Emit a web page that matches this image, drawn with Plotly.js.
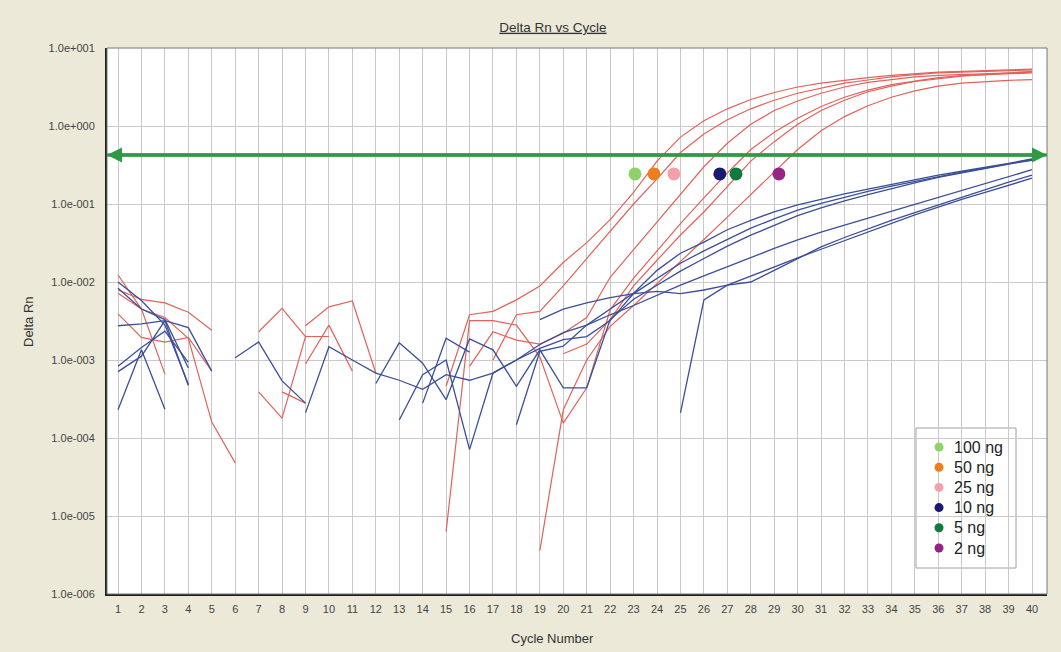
<!DOCTYPE html>
<html>
<head>
<meta charset="utf-8">
<script src="https://cdn.plot.ly/plotly-3.0.1.min.js"></script>
<style>
html,body{margin:0;padding:0;background:#ECE9D8;}
#chart{width:1061px;height:652px;}
</style>
</head>
<body>
<div id="chart"></div>
<script>
// ---- data ----
const cycles = [1,2,3,4,5,6,7,8,9,10,11,12,13,14,15,16,17,18,19,20,21,22,23,24,25,26,27,28,29,30,31,32,33,34,35,36,37,38,39,40];

const red1 = [0.0123,0.0045,0.00066,null,null,null,0.0023,0.0046,0.0020,null,null,null,null,null,0.00046,0.0038,0.0042,0.0059,0.0089,0.0178,0.032,0.063,0.141,0.355,0.72,1.17,1.66,2.19,2.69,3.16,3.55,3.89,4.17,4.47,4.68,4.90,5.01,5.13,5.25,5.37];
const red2 = [0.0079,0.0060,0.0054,0.0041,0.0024,null,null,null,0.00275,0.0048,0.0057,0.00068,null,null,null,null,0.0010,0.0038,0.0042,0.0089,0.020,0.045,0.100,0.21,0.457,0.79,1.20,1.66,2.14,2.63,3.09,3.55,3.89,4.27,4.57,4.79,4.90,5.01,5.13,5.25];
const red3 = [0.0072,0.0045,0.0035,0.0019,0.00016,0.000048,null,null,null,null,null,null,null,null,null,0.00083,0.0023,0.0018,0.0016,0.0022,0.0035,0.0115,0.026,0.060,0.132,0.30,0.60,1.05,1.58,2.09,2.63,3.16,3.63,3.98,4.27,4.47,4.57,4.68,4.79,4.90];
const red4 = [0.0039,0.00195,0.0017,0.00195,0.00072,null,null,0.00039,0.00028,null,null,null,null,null,0.0000063,0.0032,0.0032,0.0028,0.0011,0.000155,0.00044,0.0044,0.0112,0.025,0.056,0.12,0.25,0.50,0.83,1.26,1.78,2.34,2.88,3.39,3.80,4.17,4.42,4.57,4.68,4.79];
const red5 = [null,null,null,null,null,null,null,null,0.00089,0.0028,0.00072,null,null,null,null,null,null,null,null,0.0012,0.0016,0.0033,0.0089,0.019,0.040,0.079,0.166,0.355,0.63,1.05,1.58,2.14,2.75,3.24,3.72,4.07,4.37,4.57,4.79,5.01];
const red6 = [null,null,null,null,null,null,0.00039,0.00018,0.0020,0.0020,null,null,null,null,null,null,null,null,0.0000036,0.00023,0.0010,0.0027,0.0050,0.0095,0.018,0.035,0.068,0.132,0.25,0.50,0.87,1.32,1.82,2.34,2.82,3.24,3.55,3.72,3.85,3.94];

const blue1 = [0.0100,0.0058,0.0028,0.00049,null,0.00107,0.0017,0.00054,0.00028,null,null,null,null,0.00028,0.0019,0.00126,null,0.000148,0.00129,0.0015,0.0028,0.0045,0.0072,0.0141,0.0234,0.0324,0.0468,0.0617,0.0794,0.0977,0.115,0.135,0.155,0.178,0.204,0.234,0.263,0.295,0.331,0.380];
const blue2 = [0.00275,0.0029,0.0032,0.0026,0.00072,null,null,null,0.00021,0.00148,0.0010,0.00068,0.00055,0.00042,0.00065,0.00055,0.00068,0.0010,0.00141,0.00182,0.0020,0.0032,0.0071,0.0112,0.0174,0.0251,0.0355,0.049,0.0646,0.0832,0.102,0.123,0.145,0.170,0.195,0.224,0.257,0.288,0.324,0.372];
const blue3 = [0.00083,0.00145,0.00234,0.00093,null,null,null,null,null,null,null,0.0005,0.00166,0.00091,0.00031,0.00186,0.00135,0.00046,0.00135,0.00044,0.00044,0.0033,0.0060,0.0091,0.0138,0.020,0.0288,0.0398,0.0537,0.0708,0.089,0.110,0.132,0.158,0.186,0.219,0.251,0.288,0.324,0.363];
const blue4 = [0.00023,0.00135,0.000234,null,null,null,null,null,null,null,null,null,0.00017,0.00065,0.0010,0.000071,0.00068,0.0010,0.00158,0.00224,0.0028,0.0038,0.0050,0.0068,0.0091,0.012,0.0158,0.0209,0.0269,0.0347,0.0437,0.0537,0.066,0.0813,0.100,0.123,0.151,0.186,0.229,0.275];
const blue5 = [0.00071,0.00112,0.0032,0.00047,null,null,null,null,null,null,null,null,null,null,null,null,null,null,0.0033,0.0045,0.0054,0.0063,0.0071,0.0076,0.0071,0.0079,0.0091,0.0100,0.0141,0.020,0.0282,0.0372,0.0479,0.0617,0.0776,0.0977,0.123,0.155,0.191,0.234];
const blue6 = [0.0083,0.0045,0.0033,0.00079,null,null,null,null,null,null,null,null,null,null,null,null,null,null,null,null,null,null,null,null,0.00021,0.0059,0.0091,0.012,0.0158,0.0204,0.0263,0.0339,0.0437,0.0562,0.0724,0.0912,0.115,0.141,0.174,0.214];

const sampleNames = ['100 ng','50 ng','25 ng','10 ng','5 ng','2 ng'];
const sampleCt = [23.06, 23.87, 24.72, 26.68, 27.37, 29.2];
const markerLevel = 0.243;
const threshold = 0.425;

const yTickVals = [1e-6,1e-5,1e-4,1e-3,1e-2,1e-1,1,10];
const yTickText = ['1.0e-006','1.0e-005','1.0e-004','1.0e-003','1.0e-002','1.0e-001','1.0e+000','1.0e+001'];
const xTickVals = cycles;

// ---- styling ----
const sampleColors = ['#8fd16a','#ee7d1c','#f2a1a9','#1c1a6e','#0f7a40','#952584'];
const redColor = '#e2625a';
const blueColor = '#3b4e99';
const greenColor = '#2f9a44';
const xRange = [0.53, 40.64];

const L = 107, R = 1047, T = 48, B = 594, W = R-L, H = B-T;
const px = v => (v - L)/W;
const py = v => (B - v)/H;

// legend geometry (pixels)
const legBox = {x0:916, x1:1016, y0:428, y1:568};
const legDotX = 939, legTextX = 952, legFirstY = 447, legStep = 20.2;

const traces = [];
[red1,red2,red3,red4,red5,red6].forEach(s => traces.push({
  x: cycles, y: s, type:'scatter', mode:'lines', connectgaps:false,
  line:{color:redColor, width:1.2}, showlegend:false, hoverinfo:'skip'
}));
[blue1,blue2,blue3,blue4,blue5,blue6].forEach(s => traces.push({
  x: cycles, y: s, type:'scatter', mode:'lines', connectgaps:false,
  line:{color:blueColor, width:1.3}, showlegend:false, hoverinfo:'skip'
}));
// threshold line
traces.push({x: xRange, y:[threshold, threshold], type:'scatter', mode:'lines',
  line:{color:greenColor, width:3}, showlegend:false, hoverinfo:'skip', cliponaxis:false});
// Ct dots
traces.push({x: sampleCt, y: sampleCt.map(() => markerLevel), type:'scatter', mode:'markers',
  marker:{size:13, color:sampleColors}, showlegend:false, hoverinfo:'skip'});
// legend dots on an overlay axis in paper units
traces.push({x: sampleNames.map(() => px(legDotX)), y: sampleNames.map((_, i) => py(legFirstY + legStep*i)),
  xaxis:'x2', yaxis:'y2', type:'scatter', mode:'markers', cliponaxis:false,
  marker:{size:9, color:sampleColors}, showlegend:false, hoverinfo:'skip'});

const font = 'Liberation Sans, Arial, sans-serif';
const tLog = Math.log10(threshold);

const annotations = [
  {x:xRange[0], y:tLog, ax:xRange[1], ay:tLog, xref:'x', yref:'y', axref:'x', ayref:'y',
    text:'', showarrow:true, arrowhead:2, arrowsize:1, arrowwidth:3, arrowcolor:greenColor},
  {x:xRange[1], y:tLog, ax:xRange[0], ay:tLog, xref:'x', yref:'y', axref:'x', ayref:'y',
    text:'', showarrow:true, arrowhead:2, arrowsize:1, arrowwidth:3, arrowcolor:greenColor},
  {text:'Cycle Number', xref:'paper', yref:'paper', x:px(552), y:py(638), xanchor:'center',
    yanchor:'middle', showarrow:false, font:{size:13, color:'#333', family:font}},
  {text:'Delta Rn', xref:'paper', yref:'paper', x:px(28), y:py(322), xanchor:'center',
    yanchor:'middle', textangle:-90, showarrow:false, font:{size:13, color:'#333', family:font}}
];
sampleNames.forEach((n, i) => annotations.push({
  text:n, xref:'paper', yref:'paper', x:px(legTextX), y:py(legFirstY + legStep*i),
  xanchor:'left', yanchor:'middle', showarrow:false, font:{size:16, color:'#222', family:font}
}));

const layout = {
  width:1061, height:652,
  paper_bgcolor:'#ECE9D8', plot_bgcolor:'#ffffff',
  margin:{l:L, r:1061-R, t:T, b:652-B, pad:0},
  font:{family:font, color:'#333', size:11},
  title:{text:'<u>Delta Rn vs Cycle</u>', xref:'paper', x:px(553), xanchor:'center',
    yref:'container', y:1-27/652, yanchor:'middle', font:{size:13.5, color:'#333', family:font}},
  xaxis:{range:xRange, tickvals:xTickVals, ticktext:xTickVals.map(String), showgrid:true,
    gridcolor:'#c9c9c9', gridwidth:1, zeroline:false, showline:true, linecolor:'#1e1e1e',
    linewidth:2, ticks:'', ticklabelstandoff:4, tickfont:{size:11, color:'#444'}},
  yaxis:{type:'log', range:[-6,1], tickvals:yTickVals, ticktext:yTickText, showgrid:true,
    gridcolor:'#c9c9c9', gridwidth:1, zeroline:false, showline:true, linecolor:'#1e1e1e',
    linewidth:2, ticks:'', ticklabelstandoff:8, tickfont:{size:11, color:'#444'}},
  xaxis2:{overlaying:'x', range:[0,1], visible:false, fixedrange:true},
  yaxis2:{overlaying:'y', range:[0,1], visible:false, fixedrange:true},
  showlegend:false,
  shapes:[
    {type:'rect', xref:'paper', yref:'paper', x0:0, x1:1, y0:0, y1:1,
      line:{color:'#777', width:1}, fillcolor:'rgba(0,0,0,0)', layer:'above'},
    {type:'rect', xref:'paper', yref:'paper', x0:px(legBox.x0), x1:px(legBox.x1), y0:py(legBox.y1), y1:py(legBox.y0),
      line:{color:'#a0a0a0', width:1}, fillcolor:'#ffffff', layer:'between'}
  ],
  annotations: annotations
};

Plotly.newPlot('chart', traces, layout, {displayModeBar:false, staticPlot:true});
</script>
</body>
</html>
